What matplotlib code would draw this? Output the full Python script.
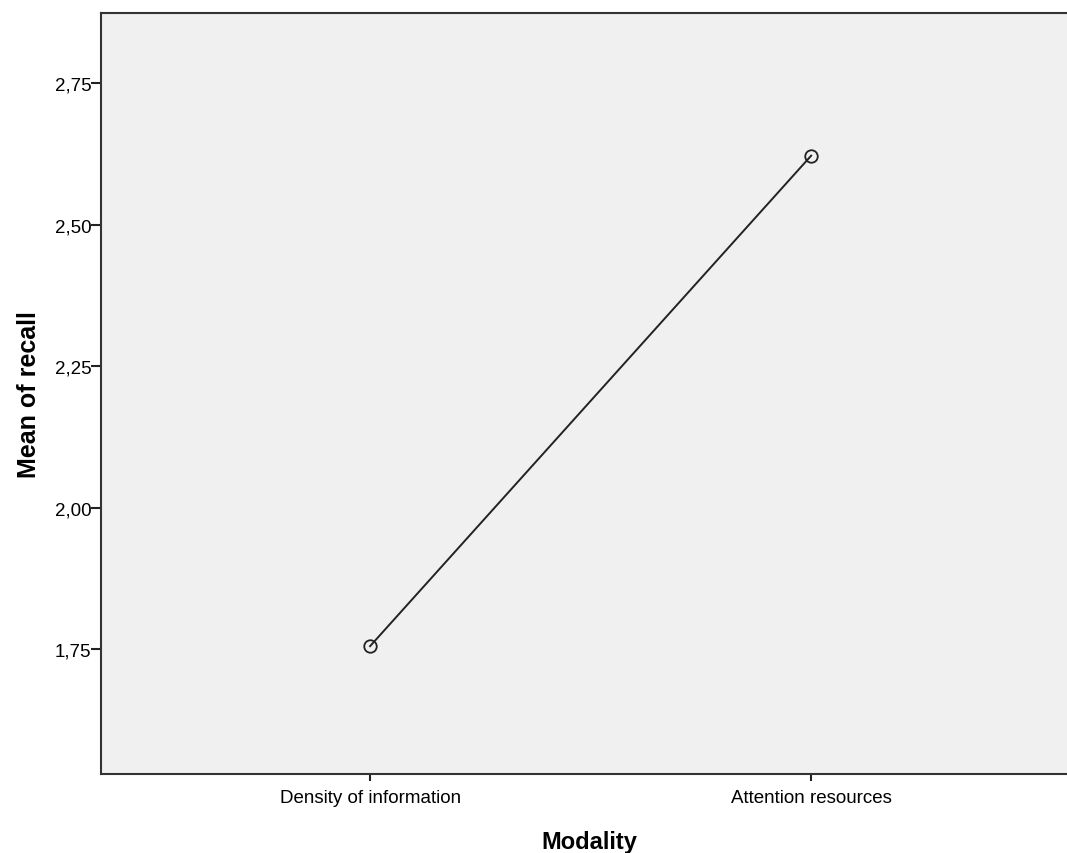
import matplotlib.pyplot as plt
from matplotlib.ticker import FuncFormatter

plt.rcParams['font.family'] = ['Liberation Sans', 'DejaVu Sans']

# Estimated marginal means of recall by modality
categories = ["Density of information", "Attention resources"]
means = [1.755, 2.622]
yticks = [1.75, 2.00, 2.25, 2.50, 2.75]

fig = plt.figure(figsize=(10.67, 8.54), dpi=100)
ax = fig.add_axes([0.0947, 0.0925, 0.9053, 0.891])
ax.set_facecolor('#f0f0f0')

x = list(range(len(categories)))
ax.plot(x, means, color='#222222', lw=1.4, marker='o', markersize=9,
        markerfacecolor='none', markeredgecolor='#222222', markeredgewidth=1.3)

ax.set_xlim(-0.61, 1.58)
ax.set_ylim(1.529, 2.874)
ax.set_xticks(x)
ax.set_xticklabels(categories)
ax.set_yticks(yticks)
ax.yaxis.set_major_formatter(FuncFormatter(lambda v, p: f"{v:.2f}".replace('.', ',')))
ax.tick_params(axis='y', labelsize=13.5, length=7, width=1.5, direction='out',
               color='#222222', pad=0)
ax.tick_params(axis='x', labelsize=13.5, length=5, width=1.5, direction='out',
               color='#222222', pad=6)

for s in ['left', 'bottom', 'top']:
    ax.spines[s].set_color('#333333')
    ax.spines[s].set_linewidth(1.5)
ax.spines['right'].set_visible(False)

ax.set_ylabel("Mean of recall", fontsize=18, fontweight='bold')
ax.set_xlabel("Modality", fontsize=17, fontweight='bold')
ax.yaxis.set_label_coords(-0.062, 0.5)
ax.xaxis.set_label_coords(0.505, -0.073)

fig.savefig("out.png", dpi=100)
